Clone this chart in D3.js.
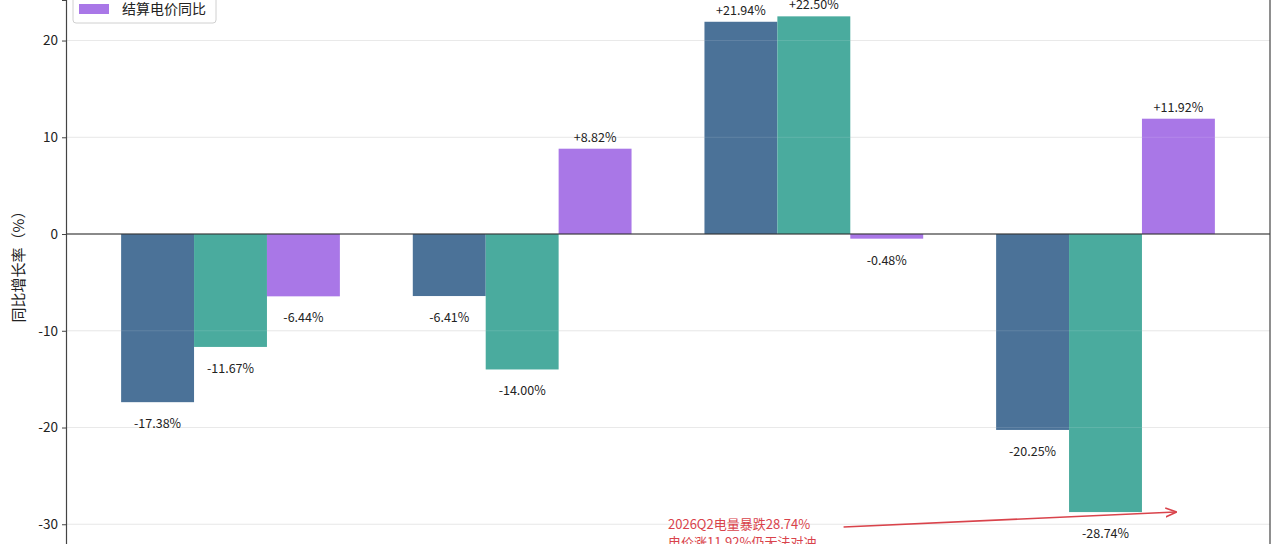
<!DOCTYPE html>
<html>
<head>
<meta charset="utf-8">
<script src="https://cdn.jsdelivr.net/npm/d3@7"></script>
<style>
  html, body { margin: 0; padding: 0; background: #fff; overflow: hidden; }
  svg { display: block; font-family: "Noto Sans CJK SC", "Noto Sans", sans-serif; }
  .ylab { text-spacing-trim: space-all; font-feature-settings: "halt" 0; }
</style>
</head>
<body>
<svg id="chart" width="1280" height="544"></svg>
<script>
// data
var categories = ["2025Q3", "2025Q4", "2026Q1", "2026Q2"];
var seriesNames = ["上网电量同比", "结算电量同比", "结算电价同比"];
var seriesColors = ["#4b7298", "#4aab9e", "#a977e7"];
var volumeYoY = [-17.38, -6.41, 21.94, -20.25];
var settledYoY = [-11.67, -14.00, 22.50, -28.74];
var priceYoY = [-6.44, 8.82, -0.48, 11.92];
var yTicks = [-30, -20, -10, 0, 10, 20];
var noteLines = ["2026Q2电量暴跌28.74%", "电价涨11.92%仍无法对冲"];

var allSeries = [volumeYoY, settledYoY, priceYoY];

var width = 1280, height = 544;
var left = 66, right = 1270;
var svg = d3.select("#chart");

// category index -> px, matplotlib style xlim
var x = d3.scaleLinear().domain([-0.564, 3.564]).range([left, right]);
var y = d3.scaleLinear().domain([-32.04, 24.19]).range([height, 0]);
var barW = 0.25;

// grid
svg.append("g").selectAll("line").data(yTicks).enter().append("line")
    .attr("x1", left).attr("x2", right)
    .attr("y1", function (d) { return y(d); })
    .attr("y2", function (d) { return y(d); })
    .attr("stroke", "#e6e6e6").attr("stroke-width", 1);

// bars
var bars = [];
allSeries.forEach(function (vals, j) {
    vals.forEach(function (v, i) {
        bars.push({ s: j, i: i, v: v });
    });
});

svg.append("g").selectAll("rect").data(bars).enter().append("rect")
    .attr("x", function (d) { return x(d.i + (d.s - 1) * barW - barW / 2); })
    .attr("width", function (d) { return x(barW) - x(0); })
    .attr("y", function (d) { return y(Math.max(0, d.v)); })
    .attr("height", function (d) { return Math.abs(y(d.v) - y(0)); })
    .attr("fill", function (d) { return seriesColors[d.s]; });

// grid again faintly over bars
svg.append("g").selectAll("line").data(yTicks).enter().append("line")
    .attr("x1", left).attr("x2", right)
    .attr("y1", function (d) { return y(d); })
    .attr("y2", function (d) { return y(d); })
    .attr("stroke", "#ffffff").attr("stroke-opacity", 0.12);

// value labels
svg.append("g").selectAll("text").data(bars).enter().append("text")
    .attr("x", function (d) { return x(d.i + (d.s - 1) * barW); })
    .attr("y", function (d) { return d.v >= 0 ? y(d.v) - 7 : y(d.v) + 26; })
    .attr("text-anchor", "middle")
    .attr("font-size", 12.5)
    .attr("fill", "#222")
    .text(function (d) { return (d.v > 0 ? "+" : "") + d.v.toFixed(2) + "%"; });

// zero line
svg.append("line")
    .attr("x1", left).attr("x2", right)
    .attr("y1", y(0)).attr("y2", y(0))
    .attr("stroke", "#222").attr("stroke-width", 1.1);

// y axis
var yAxis = svg.append("g")
    .attr("transform", "translate(" + left + ",0)")
    .call(d3.axisLeft(y).tickValues(yTicks).tickSize(4).tickPadding(4)
        .tickFormat(function (d) { return String(d); }));
yAxis.selectAll("text").attr("font-size", 13.5).attr("fill", "#222")
    .attr("font-family", "'Noto Sans CJK SC', sans-serif");
yAxis.selectAll("line").attr("stroke", "#444");
yAxis.select(".domain").attr("stroke", "#444").attr("stroke-width", 1.2);

// right spine
svg.append("line")
    .attr("x1", right).attr("x2", right).attr("y1", 0).attr("y2", height)
    .attr("stroke", "#444").attr("stroke-width", 1.2);

// y label
svg.append("text")
    .attr("class", "ylab")
    .attr("transform", "translate(24," + 263 + ") rotate(-90)")
    .attr("text-anchor", "middle")
    .attr("font-size", 15)
    .attr("fill", "#222")
    .text("同比增长率（%）");

// legend: only its last entry lies inside the picture
var legend = svg.append("g").attr("transform", "translate(73,0)");
legend.append("rect")
    .attr("x", 0).attr("y", -60).attr("width", 143).attr("height", 83)
    .attr("rx", 3)
    .attr("fill", "#fff").attr("fill-opacity", 0.85)
    .attr("stroke", "#d0d0d0");
var items = legend.selectAll("g").data(seriesNames.slice(2)).enter().append("g")
    .attr("transform", "translate(0,9)");
items.append("rect")
    .attr("x", 6).attr("y", -5).attr("width", 30).attr("height", 10)
    .attr("fill", seriesColors[2]);
items.append("text")
    .attr("x", 49).attr("y", 5)
    .attr("font-size", 14).attr("fill", "#222")
    .text(function (d) { return d; });

// annotation with arrow (data coords)
var noteColor = "#d9434b";
var noteXY = [3.24, -28.74], noteText = [1.5, -30.5], noteTail = [2.102, -30.28];
svg.append("defs").append("marker")
    .attr("id", "arrow").attr("viewBox", "0 0 10 10")
    .attr("refX", 9).attr("refY", 5)
    .attr("markerWidth", 7).attr("markerHeight", 7)
    .attr("orient", "auto")
    .append("path").attr("d", "M0,1 L10,5 L0,9")
    .attr("fill", "none").attr("stroke", noteColor).attr("stroke-width", 1.5);

svg.append("line")
    .attr("x1", x(noteTail[0])).attr("y1", y(noteTail[1]))
    .attr("x2", x(noteXY[0])).attr("y2", y(noteXY[1]))
    .attr("stroke", noteColor).attr("stroke-width", 1.6)
    .attr("marker-end", "url(#arrow)");

svg.append("g").selectAll("text").data(noteLines).enter().append("text")
    .attr("x", x(noteText[0]))
    .attr("y", function (d, i) { return y(noteText[1]) + i * 18; })
    .attr("font-size", 13)
    .attr("fill", noteColor)
    .text(function (d) { return d; });
</script>
</body>
</html>
